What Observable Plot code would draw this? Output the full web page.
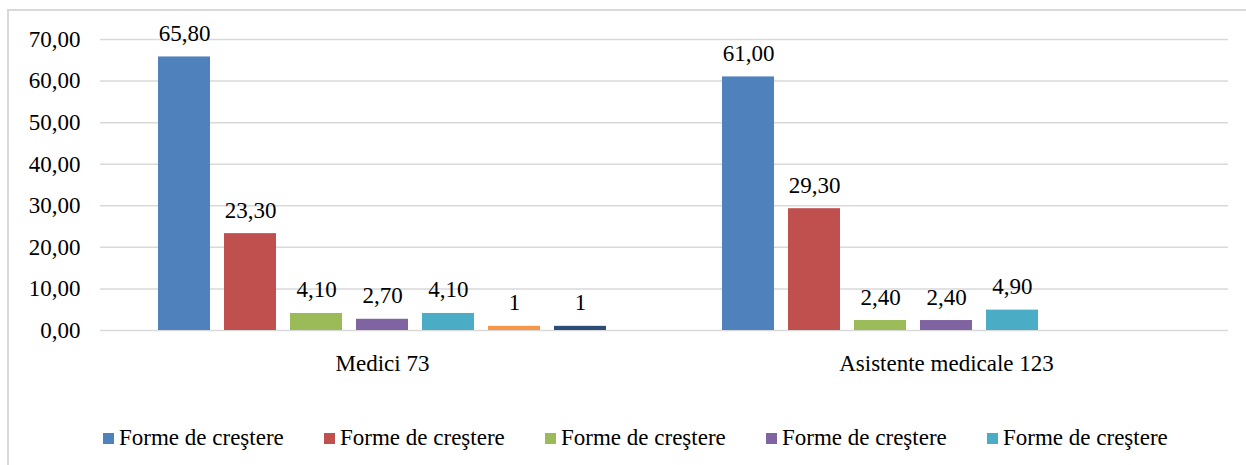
<!DOCTYPE html>
<html><head><meta charset="utf-8">
<script src="https://cdn.jsdelivr.net/npm/d3@7"></script>
<script src="https://cdn.jsdelivr.net/npm/@observablehq/plot@0.6"></script>
</head><body style="margin:0;padding:0;background:#fff;overflow:hidden;font-family:'Liberation Serif'">
<div id="wrap" style="position:relative;width:1246px;height:465px;overflow:hidden;">
<div id="frame" style="position:absolute;left:7px;top:9px;width:1300px;height:500px;border-left:2px solid #d9d9d9;border-top:2px solid #d9d9d9;box-sizing:border-box;"></div>
<div id="chart" style="position:relative;"></div>
<div id="legend" style="position:relative;height:60px;font-size:23px;color:#000;font-family:'Liberation Serif'"></div>
</div>
<script>
const groups = ["Medici 73", "Asistente medicale 123"];
const seriesIds = ["s1","s2","s3","s4","s5","s6","s7"];
const seriesNames = ["Forme de creştere","Forme de creştere","Forme de creştere","Forme de creştere","Forme de creştere","Forme de creştere","Forme de creştere"];
const colors = ["#4f81bd","#c0504d","#9bbb59","#8064a2","#4bacc6","#f79646","#2c4d75"];
const mediciValues = [65.8, 23.3, 4.1, 2.7, 4.1, 1, 1];
const mediciLabels = ["65,80","23,30","4,10","2,70","4,10","1","1"];
const asistenteValues = [61.0, 29.3, 2.4, 2.4, 4.9];
const asistenteLabels = ["61,00","29,30","2,40","2,40","4,90"];
const yTicks = [0,10,20,30,40,50,60,70];
const legendCount = 5;

const data = [];
mediciValues.forEach((v,i)=>data.push({group:groups[0], series:seriesIds[i], value:v, label:mediciLabels[i]}));
asistenteValues.forEach((v,i)=>data.push({group:groups[1], series:seriesIds[i], value:v, label:asistenteLabels[i]}));

const fmt = d => d3.format(".2f")(d).replace(".", ",");
const FONT = "'Liberation Serif', serif";

const chart = Plot.plot({
  width: 1246,
  height: 405,
  marginLeft: 100,
  marginRight: 18,
  marginTop: 39,
  marginBottom: 75,
  style: {fontFamily: FONT, fontSize: "23px", color: "#000", background: "transparent", overflow: "visible"},
  fx: {domain: groups, paddingInner: 0, paddingOuter: 0, round: false, label: null, tickSize: 0, tickPadding: 24},
  x: {domain: seriesIds, paddingInner: 0.212, paddingOuter: 0.879, round: false, axis: null},
  y: {domain: [0,70], ticks: yTicks, tickFormat: fmt, tickSize: 0, tickPadding: 20, label: null},
  color: {domain: seriesIds, range: colors},
  marks: [
    Plot.gridY(yTicks, {stroke: "#d9d9d9", strokeOpacity: 1, strokeWidth: 1.5}),
    Plot.barY(data, {fx: "group", x: "series", y: "value", fill: "series"}),
    Plot.text(data, {fx: "group", x: "series", y: "value", text: "label", lineAnchor: "bottom", dy: -16, fill: "#000", fontSize: 23})
  ]
});
chart.setAttribute("font-family", FONT);
document.getElementById("chart").appendChild(chart);

const legend = document.getElementById("legend");
for (let i = 0; i < legendCount; i++) {
  const it = document.createElement("div");
  it.setAttribute("style", "position:absolute;top:20px;display:flex;align-items:center;white-space:nowrap;font-family:'Liberation Serif';font-size:23px;left:" + (103 + i*221) + "px");
  const sw = document.createElement("div");
  sw.setAttribute("style", "width:11px;height:11px;margin-right:5px;background:" + colors[i]);
  const t = document.createElement("span");
  t.textContent = seriesNames[i];
  it.appendChild(sw); it.appendChild(t);
  legend.appendChild(it);
}
</script>
</body></html>
